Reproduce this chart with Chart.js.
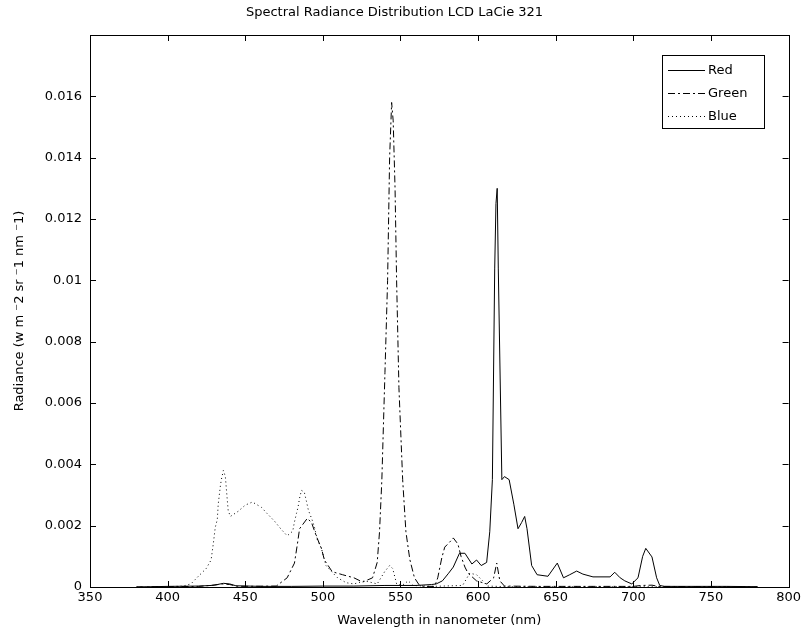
<!DOCTYPE html>
<html>
<head>
<meta charset="utf-8">
<script src="https://cdn.jsdelivr.net/npm/chart.js@4"></script>
<style>
  html, body { margin: 0; padding: 0; background: #fff; }
  canvas { display: block; }
</style>
</head>
<body>
<canvas id="myChart" width="804" height="639"></canvas>
<script>
const xTicks = [350, 400, 450, 500, 550, 600, 650, 700, 750, 800];
const yTicks = [0, 0.002, 0.004, 0.006, 0.008, 0.01, 0.012, 0.014, 0.016];

const redWl = [380, 400, 420, 428, 432, 436, 440, 444, 460, 480, 500, 520, 540, 560, 570, 573, 577, 581, 584, 588, 591.5, 596, 599, 602, 605.5, 607.5, 609.2, 610.7, 611.5, 612.3, 613, 615.3, 617, 620, 623, 625.7, 628, 630, 631.5, 634.5, 638, 645, 651, 655, 659, 663.5, 667.5, 674, 685, 688, 691.5, 694.5, 699, 703, 706, 708, 712, 715, 717, 720, 740, 760, 780];
const redVal = [0, 0.00002, 0.00003, 0.00005, 0.00008, 0.00012, 0.0001, 0.00004, 0.00002, 0.00002, 0.00003, 0.00003, 0.00005, 0.00005, 0.00008, 0.0001, 0.0002, 0.00045, 0.00065, 0.0011, 0.0011, 0.00075, 0.00088, 0.0007, 0.0008, 0.0018, 0.0035, 0.0104, 0.0125, 0.013, 0.0104, 0.0035, 0.0036, 0.0035, 0.0027, 0.0019, 0.0021, 0.0023, 0.0019, 0.0007, 0.0004, 0.00035, 0.00078, 0.0003, 0.0004, 0.00052, 0.00042, 0.00033, 0.00033, 0.00048, 0.0003, 0.0002, 0.0001, 0.0003, 0.001, 0.00126, 0.00098, 0.0003, 0.00005, 0.00002, 0.00002, 0.00002, 0.00001];

const greenWl = [380, 420, 430, 435, 440, 445, 470, 477, 481.7, 483.6, 485, 490, 492.7, 496, 499, 501, 506, 512.7, 520, 525.6, 532, 535, 536.5, 538, 540, 541.7, 543, 544.3, 545.3, 546.5, 547.5, 549, 551.4, 553.5, 556, 559, 562, 565, 572, 574, 576.6, 578.5, 581.8, 584, 587, 589, 591.5, 593.5, 599, 605.6, 610, 612, 614, 617, 640, 700, 705, 712, 716, 780];
const greenVal = [0, 0.00002, 0.00006, 0.0001, 0.00008, 0.00002, 0.00003, 0.0003, 0.00078, 0.0014, 0.0019, 0.00224, 0.0021, 0.00163, 0.00127, 0.00088, 0.0005, 0.0004, 0.0003, 0.00016, 0.0003, 0.0008, 0.0018, 0.0035, 0.007, 0.01, 0.014, 0.0158, 0.0152, 0.013, 0.01, 0.0065, 0.0035, 0.0018, 0.0009, 0.0003, 0.00007, 0.00002, 0.00002, 0.0003, 0.00095, 0.0013, 0.00147, 0.0016, 0.0014, 0.001, 0.00065, 0.00045, 0.0002, 0.0001, 0.0003, 0.00078, 0.0002, 0.00003, 0.00002, 0.00002, 0.00005, 0.00006, 0.00002, 0];

const blueWl = [380, 400, 410, 415, 420, 424.8, 428, 429.4, 430.7, 432, 432.6, 434, 434.6, 435.9, 437.2, 438, 439, 440.4, 445.5, 450, 454.6, 460.4, 464, 468.8, 473, 477, 480.6, 481.6, 483, 484, 485, 486.2, 488, 489.4, 490.7, 493, 494.6, 496.5, 499, 502, 505.6, 509.5, 515, 520, 527, 535, 539.8, 543, 545, 546, 547.5, 551, 555, 558, 570, 590, 594.6, 599, 603, 606, 620, 700, 780];
const blueVal = [0, 0.00001, 0.00003, 0.0001, 0.00036, 0.0006, 0.00088, 0.0014, 0.00195, 0.0022, 0.0027, 0.0033, 0.0035, 0.0038, 0.0036, 0.0031, 0.0025, 0.0023, 0.00247, 0.00267, 0.00277, 0.0026, 0.0024, 0.00215, 0.00189, 0.00167, 0.00182, 0.0021, 0.0024, 0.0026, 0.0029, 0.00315, 0.0031, 0.0028, 0.0025, 0.0022, 0.00195, 0.00153, 0.00127, 0.0007, 0.0005, 0.0003, 0.00014, 0.0001, 0.0002, 0.0001, 0.0005, 0.0007, 0.0006, 0.0004, 0.0001, 0.00005, 0.0002, 0.00005, 0.00002, 0.00005, 0.00045, 0.0004, 0.0002, 0.00003, 0.00001, 0.00001, 0];

const FONT = 'DejaVu Sans';

function pts(wl, val) {
  return wl.map((w, i) => ({ x: w, y: val[i] }));
}

// matlab style box, inward ticks and the legend
const matlabBox = {
  id: 'matlabBox',
  afterDraw(chart) {
    const { ctx, chartArea: a, scales: { x, y } } = chart;
    ctx.save();
    ctx.strokeStyle = '#000';
    ctx.lineWidth = 1;
    ctx.setLineDash([]);
    ctx.strokeRect(Math.round(a.left) + 0.5, Math.round(a.top) + 0.5,
      Math.round(a.right - a.left), Math.round(a.bottom - a.top));
    ctx.beginPath();
    x.ticks.forEach(t => {
      const px = Math.round(x.getPixelForValue(t.value)) + 0.5;
      ctx.moveTo(px, a.bottom); ctx.lineTo(px, a.bottom - 6);
      ctx.moveTo(px, a.top); ctx.lineTo(px, a.top + 6);
    });
    y.ticks.forEach(t => {
      const py = Math.round(y.getPixelForValue(t.value)) + 0.5;
      ctx.moveTo(a.left, py); ctx.lineTo(a.left + 6, py);
      ctx.moveTo(a.right, py); ctx.lineTo(a.right - 6, py);
    });
    ctx.stroke();

    // legend
    const lx = 662, ly = 55, lw = 102, lh = 73;
    ctx.fillStyle = '#fff';
    ctx.fillRect(lx, ly, lw, lh);
    ctx.strokeRect(lx + 0.5, ly + 0.5, lw, lh);
    ctx.font = '13px ' + FONT;
    ctx.textBaseline = 'middle';
    ctx.fillStyle = '#000';
    chart.data.datasets.forEach((ds, i) => {
      const yy = ly + 15.5 + i * 23;
      ctx.setLineDash(ds.borderDash || []);
      ctx.beginPath();
      ctx.moveTo(668, yy); ctx.lineTo(705, yy);
      ctx.stroke();
      ctx.fillText(ds.label, 708, yy);
    });
    ctx.restore();
  }
};

new Chart(document.getElementById('myChart'), {
  type: 'line',
  data: {
    datasets: [
      { label: 'Red', data: pts(redWl, redVal), borderDash: [] },
      { label: 'Green', data: pts(greenWl, greenVal), borderDash: [7, 3, 2, 3] },
      { label: 'Blue', data: pts(blueWl, blueVal), borderDash: [1, 3] }
    ].map(d => Object.assign(d, {
      borderColor: '#000', borderWidth: 1, pointRadius: 0, tension: 0, fill: false
    }))
  },
  options: {
    responsive: false,
    animation: false,
    devicePixelRatio: 1,
    layout: { padding: { left: 0, right: 15, top: 0, bottom: 0 } },
    plugins: {
      legend: { display: false },
      tooltip: { enabled: false },
      title: {
        display: true,
        text: 'Spectral Radiance Distribution LCD LaCie 321',
        color: '#000',
        font: { family: FONT, size: 13, weight: 'normal' },
        padding: { top: 5, bottom: 14.4 }
      }
    },
    scales: {
      x: {
        type: 'linear',
        min: 350, max: 800,
        afterFit: s => { s.height = 52; },
        afterBuildTicks: s => { s.ticks = xTicks.map(v => ({ value: v })); },
        grid: { display: false, drawTicks: false },
        border: { display: false },
        ticks: { color: '#000', padding: 3, font: { family: FONT, size: 13 } },
        title: {
          display: true, text: 'Wavelength in nanometer (nm)', color: '#000',
          font: { family: FONT, size: 13 }, padding: { top: 0, bottom: 11 }
        }
      },
      y: {
        min: 0, max: 0.018,
        afterFit: s => { s.width = 90; },
        afterBuildTicks: s => { s.ticks = yTicks.map(v => ({ value: v })); },
        grid: { display: false, drawTicks: false },
        border: { display: false },
        ticks: {
          color: '#000', padding: 8, font: { family: FONT, size: 13 },
          callback: v => String(Number(v.toFixed(3)))
        },
        title: {
          display: true, text: 'Radiance (w m ⁻2 sr ⁻1 nm ⁻1)', color: '#000',
          font: { family: FONT, size: 13 }, padding: { top: 12, bottom: 12 }
        }
      }
    }
  },
  plugins: [matlabBox]
});
</script>
</body>
</html>
